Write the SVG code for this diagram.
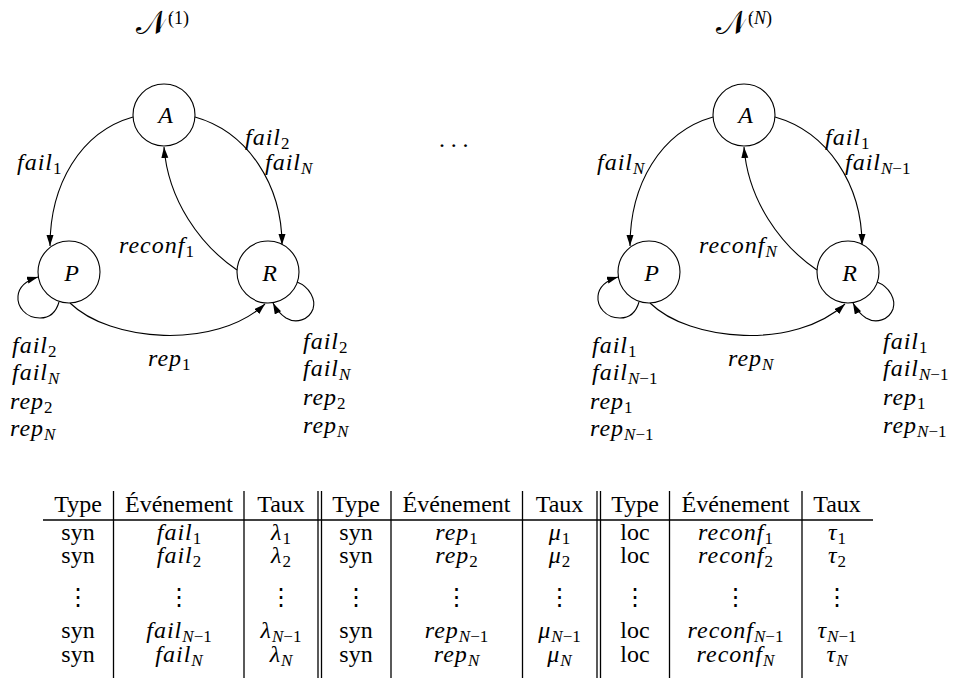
<svg xmlns="http://www.w3.org/2000/svg" width="971" height="678" viewBox="0 0 971 678">
<style>
.ln{fill:none;stroke:#000;stroke-width:1.1}
.nd{fill:#fff;stroke:#000;stroke-width:1.1}
.m{font-family:"Liberation Serif",serif;font-style:italic;font-size:24px;letter-spacing:1px}
.s{font-size:17px;font-style:normal;letter-spacing:0}
.si{font-size:17px;font-style:italic;letter-spacing:0}
.r{font-family:"Liberation Serif",serif;font-size:24px}
.c{text-anchor:middle}
.t{font-family:"DejaVu Serif","Liberation Serif",serif;font-size:33px;font-weight:normal}
.d{font-family:"DejaVu Sans",sans-serif;font-size:24px;text-anchor:middle}
.tl{stroke:#000;stroke-width:1.3}
</style>
<defs>
<marker id="ah" markerUnits="userSpaceOnUse" markerWidth="11" markerHeight="8" refX="11" refY="3.5" orient="auto"><path d="M0,0 L11,3.5 L0,7 z" fill="#000"/></marker>
</defs>
<rect width="971" height="678" fill="#fff"/>

<!-- Network 1 -->
<g id="net1">
<text class="t" x="136" y="34">𝒩<tspan font-family="Liberation Serif" font-size="18" dy="-10">(1)</tspan></text>
<g id="edges1">
<path class="ln" marker-end="url(#ah)" d="M133,117 C80,132 50,185 50,246"/>
<path class="ln" marker-end="url(#ah)" d="M195,117 C248,132 282,185 282,245"/>
<path class="ln" marker-end="url(#ah)" d="M237,270 C200,245 168,200 164,147"/>
<path class="ln" marker-end="url(#ah)" d="M70,303 C110,342 215,350 265,304"/>
<path class="ln" marker-end="url(#ah)" d="M59,302 C55,316 46,318 40,318 C25,318 17,306 18,296 C19,286 28,280 38,277"/>
<path class="ln" marker-end="url(#ah)" d="M297,282 C310,287 316,300 313,309 C309,320 296,324 286,318 C280,314 276,309 273,303"/>
<text class="m" x="17" y="170">fail<tspan class="s" dy="4">1</tspan></text>
<text class="m" x="245" y="145">fail<tspan class="s" dy="4">2</tspan></text>
<text class="m" x="265" y="170">fail<tspan class="si" dy="4">N</tspan></text>
<text class="m" x="119" y="253">reconf<tspan class="s" dy="4">1</tspan></text>
<text class="m" x="12" y="353">fail<tspan class="s" dy="4">2</tspan></text>
<text class="m" x="12" y="380">fail<tspan class="si" dy="4">N</tspan></text>
<text class="m" x="10" y="409">rep<tspan class="s" dy="4">2</tspan></text>
<text class="m" x="10" y="436">rep<tspan class="si" dy="4">N</tspan></text>
<text class="m" x="148" y="366">rep<tspan class="s" dy="4">1</tspan></text>
<text class="m" x="303" y="349">fail<tspan class="s" dy="4">2</tspan></text>
<text class="m" x="303" y="376">fail<tspan class="si" dy="4">N</tspan></text>
<text class="m" x="303" y="405">rep<tspan class="s" dy="4">2</tspan></text>
<text class="m" x="303" y="433">rep<tspan class="si" dy="4">N</tspan></text>
</g>
<g id="n1-A"><circle class="nd" cx="164" cy="115" r="31"/><text class="m c" x="166" y="123">A</text></g>
<g id="n1-P"><circle class="nd" cx="69" cy="272" r="31"/><text class="m c" x="72" y="281">P</text></g>
<g id="n1-R"><circle class="nd" cx="268" cy="272" r="31"/><text class="m c" x="270" y="281">R</text></g>
</g>

<text class="r" x="439" y="147" font-size="22" letter-spacing="5.7">...</text>

<!-- Network N -->
<g id="netN" transform="translate(580,0)">
<text class="t" x="136" y="34">𝒩<tspan font-family="Liberation Serif" font-size="18" dy="-10">(<tspan font-style="italic">N</tspan>)</tspan></text>
<g id="edgesN">
<path class="ln" marker-end="url(#ah)" d="M133,117 C80,132 50,185 50,246"/>
<path class="ln" marker-end="url(#ah)" d="M195,117 C248,132 282,185 282,245"/>
<path class="ln" marker-end="url(#ah)" d="M237,270 C200,245 168,200 164,147"/>
<path class="ln" marker-end="url(#ah)" d="M70,303 C110,342 215,350 265,304"/>
<path class="ln" marker-end="url(#ah)" d="M59,302 C55,316 46,318 40,318 C25,318 17,306 18,296 C19,286 28,280 38,277"/>
<path class="ln" marker-end="url(#ah)" d="M297,282 C310,287 316,300 313,309 C309,320 296,324 286,318 C280,314 276,309 273,303"/>
<text class="m" x="17" y="170">fail<tspan class="si" dy="4">N</tspan></text>
<text class="m" x="245" y="145">fail<tspan class="s" dy="4">1</tspan></text>
<text class="m" x="265" y="170">fail<tspan class="s" dy="4"><tspan font-style="italic">N</tspan>−1</tspan></text>
<text class="m" x="119" y="253">reconf<tspan class="si" dy="4">N</tspan></text>
<text class="m" x="12" y="353">fail<tspan class="s" dy="4">1</tspan></text>
<text class="m" x="12" y="380">fail<tspan class="s" dy="4"><tspan font-style="italic">N</tspan>−1</tspan></text>
<text class="m" x="10" y="409">rep<tspan class="s" dy="4">1</tspan></text>
<text class="m" x="10" y="436">rep<tspan class="s" dy="4"><tspan font-style="italic">N</tspan>−1</tspan></text>
<text class="m" x="148" y="366">rep<tspan class="si" dy="4">N</tspan></text>
<text class="m" x="303" y="349">fail<tspan class="s" dy="4">1</tspan></text>
<text class="m" x="303" y="376">fail<tspan class="s" dy="4"><tspan font-style="italic">N</tspan>−1</tspan></text>
<text class="m" x="303" y="405">rep<tspan class="s" dy="4">1</tspan></text>
<text class="m" x="303" y="433">rep<tspan class="s" dy="4"><tspan font-style="italic">N</tspan>−1</tspan></text>
</g>
<g id="nN-A"><circle class="nd" cx="164" cy="115" r="31"/><text class="m c" x="166" y="123">A</text></g>
<g id="nN-P"><circle class="nd" cx="69" cy="272" r="31"/><text class="m c" x="72" y="281">P</text></g>
<g id="nN-R"><circle class="nd" cx="268" cy="272" r="31"/><text class="m c" x="270" y="281">R</text></g>
</g>

<!-- Table -->
<g id="table">
<line class="tl" x1="43" y1="520" x2="873" y2="520" stroke-width="1.8"/>
<line class="tl" x1="113.5" y1="491" x2="113.5" y2="678"/>
<line class="tl" x1="244" y1="491" x2="244" y2="678"/>
<line class="tl" x1="318" y1="491" x2="318" y2="678"/>
<line class="tl" x1="321.5" y1="491" x2="321.5" y2="678"/>
<line class="tl" x1="391" y1="491" x2="391" y2="678"/>
<line class="tl" x1="522.5" y1="491" x2="522.5" y2="678"/>
<line class="tl" x1="597" y1="491" x2="597" y2="678"/>
<line class="tl" x1="600.5" y1="491" x2="600.5" y2="678"/>
<line class="tl" x1="669.5" y1="491" x2="669.5" y2="678"/>
<line class="tl" x1="802" y1="491" x2="802" y2="678"/>

<g class="r c">
<text x="78" y="512">Type</text><text x="179" y="512">Événement</text><text x="281" y="512">Taux</text>
<text x="356" y="512">Type</text><text x="456.5" y="512">Événement</text><text x="559.5" y="512">Taux</text>
<text x="635" y="512">Type</text><text x="735.5" y="512">Événement</text><text x="837" y="512">Taux</text>

<text x="78" y="540">syn</text><text x="356" y="540">syn</text><text x="635" y="540">loc</text>
<text x="78" y="563">syn</text><text x="356" y="563">syn</text><text x="635" y="563">loc</text>
<text x="78" y="638">syn</text><text x="356" y="638">syn</text><text x="635" y="638">loc</text>
<text x="78" y="662">syn</text><text x="356" y="662">syn</text><text x="635" y="662">loc</text>
</g>

<g class="m c">
<text x="179" y="540">fail<tspan class="s" dy="4">1</tspan></text>
<text x="281" y="540">λ<tspan class="s" dy="4">1</tspan></text>
<text x="456.5" y="540">rep<tspan class="s" dy="4">1</tspan></text>
<text x="559.5" y="540">μ<tspan class="s" dy="4">1</tspan></text>
<text x="735.5" y="540">reconf<tspan class="s" dy="4">1</tspan></text>
<text x="837" y="540">τ<tspan class="s" dy="4">1</tspan></text>

<text x="179" y="563">fail<tspan class="s" dy="4">2</tspan></text>
<text x="281" y="563">λ<tspan class="s" dy="4">2</tspan></text>
<text x="456.5" y="563">rep<tspan class="s" dy="4">2</tspan></text>
<text x="559.5" y="563">μ<tspan class="s" dy="4">2</tspan></text>
<text x="735.5" y="563">reconf<tspan class="s" dy="4">2</tspan></text>
<text x="837" y="563">τ<tspan class="s" dy="4">2</tspan></text>

<text x="179" y="638">fail<tspan class="s" dy="4"><tspan font-style="italic">N</tspan>−1</tspan></text>
<text x="281" y="638">λ<tspan class="s" dy="4"><tspan font-style="italic">N</tspan>−1</tspan></text>
<text x="456.5" y="638">rep<tspan class="s" dy="4"><tspan font-style="italic">N</tspan>−1</tspan></text>
<text x="559.5" y="638">μ<tspan class="s" dy="4"><tspan font-style="italic">N</tspan>−1</tspan></text>
<text x="735.5" y="638">reconf<tspan class="s" dy="4"><tspan font-style="italic">N</tspan>−1</tspan></text>
<text x="837" y="638">τ<tspan class="s" dy="4"><tspan font-style="italic">N</tspan>−1</tspan></text>

<text x="179" y="662">fail<tspan class="si" dy="4">N</tspan></text>
<text x="281" y="662">λ<tspan class="si" dy="4">N</tspan></text>
<text x="456.5" y="662">rep<tspan class="si" dy="4">N</tspan></text>
<text x="559.5" y="662">μ<tspan class="si" dy="4">N</tspan></text>
<text x="735.5" y="662">reconf<tspan class="si" dy="4">N</tspan></text>
<text x="837" y="662">τ<tspan class="si" dy="4">N</tspan></text>
</g>

<g class="d">
<text x="78" y="605">⋮</text><text x="179" y="605">⋮</text><text x="281" y="605">⋮</text>
<text x="356" y="605">⋮</text><text x="456.5" y="605">⋮</text><text x="559.5" y="605">⋮</text>
<text x="635" y="605">⋮</text><text x="735.5" y="605">⋮</text><text x="837" y="605">⋮</text>
</g>
</g>
</svg>
